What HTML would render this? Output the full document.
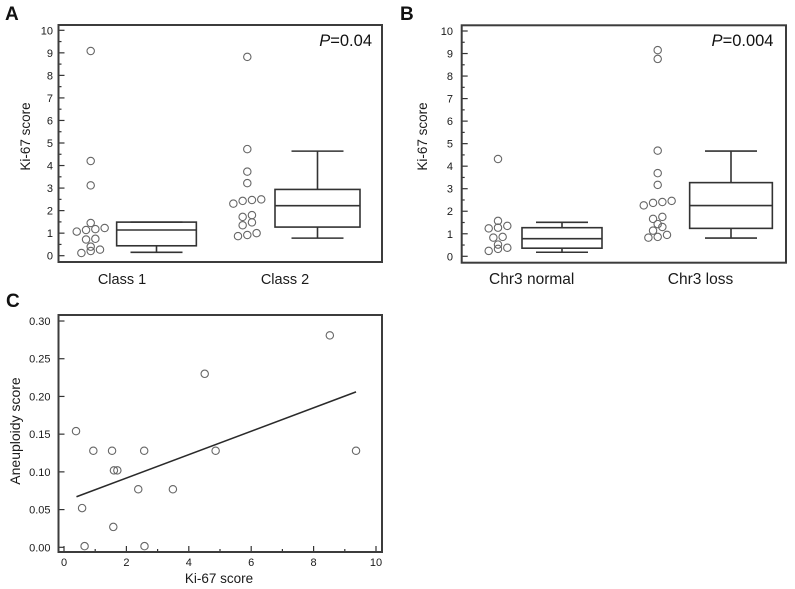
<!DOCTYPE html>
<html>
<head>
<meta charset="utf-8">
<title>Ki-67 score charts</title>
<style>
html,body{margin:0;padding:0;background:#fff;}
svg{display:block;font-family:"Liberation Sans",sans-serif;}
</style>
</head>
<body>
<svg id="figure" xmlns="http://www.w3.org/2000/svg" width="795" height="589" viewBox="0 0 795 589"></svg>
<script>
// ---- Panel A data ----
const aCategories = ['Class 1', 'Class 2'];
const aClass1Values = [9.08, 4.2, 3.12, 1.45, 1.07, 1.14, 1.18, 1.23, 0.72, 0.75, 0.40, 0.21, 0.27, 0.12];
const aClass1Slots = [0, 0, 0, 0, -3, -1, 1, 3, -1, 1, 0, 0, 2, -2];
const aClass2Values = [8.82, 4.73, 3.73, 3.22, 2.31, 2.43, 2.47, 2.5, 1.72, 1.8, 1.35, 1.48, 0.87, 0.92, 1.0];
const aClass2Slots = [0, 0, 0, 0, -3, -1, 1, 3, -1, 1, -1, 1, -2, 0, 2];
const aClass1Box = [0.15, 0.44, 1.14, 1.49, 1.49];
const aClass2Box = [0.78, 1.27, 2.22, 2.94, 4.64];
// ---- Panel B data ----
const bCategories = ['Chr3 normal', 'Chr3 loss'];
const bNormalValues = [4.32, 1.57, 1.24, 1.27, 1.35, 0.83, 0.86, 0.52, 0.33, 0.38, 0.24];
const bNormalSlots = [0, 0, -2, 0, 2, -1, 1, 0, 0, 2, -2];
const bLossValues = [9.15, 8.76, 4.69, 3.69, 3.17, 2.26, 2.37, 2.41, 2.46, 1.66, 1.75, 1.43, 1.30, 1.14, 0.83, 0.86, 0.95];
const bLossSlots = [0, 0, 0, 0, 0, -3, -1, 1, 3, -1, 1, 0, 1, -1, -2, 0, 2];
const bNormalBox = [0.18, 0.36, 0.78, 1.27, 1.51];
const bLossBox = [0.81, 1.24, 2.25, 3.27, 4.67];
// ---- Shared box-panel ticks ----
const scoreTicks = [0, 1, 2, 3, 4, 5, 6, 7, 8, 9, 10];
const scoreMinorTicks = [0.5, 1.5, 2.5, 3.5, 4.5, 5.5, 6.5, 7.5, 8.5, 9.5];
// ---- Panel C data ----
const cKi67 = [0.385, 0.94, 1.54, 2.57, 4.86, 9.36, 1.6, 1.71, 2.38, 3.49, 0.58, 1.58, 0.66, 2.58, 4.51, 8.52];
const cAneuploidy = [0.154, 0.128, 0.128, 0.128, 0.128, 0.128, 0.102, 0.102, 0.077, 0.077, 0.052, 0.027, 0.0015, 0.0015, 0.23, 0.281];
const cFitX = [0.4, 9.36];
const cFitY = [0.067, 0.206];
const cXTicks = [0, 2, 4, 6, 8, 10];
const cXMinorTicks = [1, 3, 5, 7, 9];
const cYTicks = [0, 0.05, 0.10, 0.15, 0.20, 0.25, 0.30];

const NS = 'http://www.w3.org/2000/svg';
const svg = document.getElementById('figure');
const INK = '#333333';
const CIRCLE = '#666666';

function line(parent, x1, y1, x2, y2, color, width) {
  const el = document.createElementNS(NS, 'line');
  el.setAttribute('x1', x1);
  el.setAttribute('y1', y1);
  el.setAttribute('x2', x2);
  el.setAttribute('y2', y2);
  el.setAttribute('stroke', color);
  el.setAttribute('stroke-width', width);
  parent.appendChild(el);
  return el;
}
function text(parent, str, x, y, size, anchor, color) {
  const el = document.createElementNS(NS, 'text');
  el.setAttribute('x', x);
  el.setAttribute('y', y);
  el.setAttribute('font-size', size);
  el.setAttribute('text-anchor', anchor);
  el.setAttribute('fill', color || '#1a1a1a');
  el.textContent = str;
  parent.appendChild(el);
  return el;
}
function group(parent) {
  const el = document.createElementNS(NS, 'g');
  parent.appendChild(el);
  return el;
}
function frame(parent, x, y, w, h) {
  const el = document.createElementNS(NS, 'rect');
  el.setAttribute('x', x);
  el.setAttribute('y', y);
  el.setAttribute('width', w);
  el.setAttribute('height', h);
  el.setAttribute('fill', 'none');
  el.setAttribute('stroke', '#3c3c3c');
  el.setAttribute('stroke-width', 2);
  parent.appendChild(el);
  
  
}
function circle(parent, cx, cy) {
  const el = document.createElementNS(NS, 'circle');
  el.setAttribute('cx', cx);
  el.setAttribute('cy', cy);
  el.setAttribute('r', 3.7);
  el.setAttribute('fill', 'none');
  el.setAttribute('stroke', CIRCLE);
  el.setAttribute('stroke-width', 1.1);
  parent.appendChild(el);
  
  
}
function panelLetter(str, x, y) {
  const el = text(svg, str, x, y, 19, 'start', '#111');
  el.setAttribute('font-weight', 'bold');
  
  
}
function yTitle(str, x, cy, size) {
  const el = text(svg, str, 0, 0, size, 'middle');
  el.setAttribute('transform', 'translate(' + x + ',' + cy + ') rotate(-90)');
  
  
}

function drawSwarm(parent, values, slots, cx, yScale) {
  const g = group(parent);
  
  
  values.forEach(function (v, i) {
    circle(g, cx + slots[i] * 4.65, yScale(v));
  });
}
function drawBox(parent, stats, cx, boxW, yScale) {
  const g = group(parent);
  
  
  const low = yScale(stats[0]), q1 = yScale(stats[1]), med = yScale(stats[2]), q3 = yScale(stats[3]), high = yScale(stats[4]);
  const lw = 1.6;
  line(g, cx, q1, cx, low, INK, lw);
  line(g, cx, q3, cx, high, INK, lw);
  line(g, cx - 26, low, cx + 26, low, INK, lw);
  line(g, cx - 26, high, cx + 26, high, INK, lw);
  const r = document.createElementNS(NS, 'rect');
  r.setAttribute('x', cx - boxW / 2);
  r.setAttribute('y', q3);
  r.setAttribute('width', boxW);
  r.setAttribute('height', q1 - q3);
  r.setAttribute('fill', 'none');
  r.setAttribute('stroke', INK);
  r.setAttribute('stroke-width', lw);
  g.appendChild(r);
  line(g, cx - boxW / 2, med, cx + boxW / 2, med, INK, lw);
}

function drawBoxPanel(cfg) {
  const g = group(svg);
  
  
  const yScale = function (v) { return cfg.y0 - v * cfg.yUnit; };
  scoreTicks.forEach(function (t) {
    line(g, cfg.left, yScale(t), cfg.left + 6, yScale(t), INK, 1.2);
    const lab = text(g, String(t), cfg.labelRight, yScale(t) + 4, 11, 'end');
    
    
  });
  scoreMinorTicks.forEach(function (t) {
    line(g, cfg.left, yScale(t), cfg.left + 3, yScale(t), INK, 1.2);
  });
  frame(g, cfg.left, cfg.top, cfg.right - cfg.left, cfg.bottom - cfg.top);
  drawSwarm(g, cfg.values[0], cfg.slots[0], cfg.swarmX[0], yScale);
  drawSwarm(g, cfg.values[1], cfg.slots[1], cfg.swarmX[1], yScale);
  drawBox(g, cfg.boxes[0], cfg.boxX[0], cfg.boxW[0], yScale);
  drawBox(g, cfg.boxes[1], cfg.boxX[1], cfg.boxW[1], yScale);
  cfg.categories.forEach(function (c, i) {
    const lab = text(g, c, cfg.catX[i], 284, cfg.catSize, 'middle');
    
    
  });
  const p = text(g, '', cfg.pRight, 46, 16.5, 'end', '#111');
  const ps = document.createElementNS(NS, 'tspan');
  ps.setAttribute('font-style', 'italic');
  ps.textContent = 'P';
  p.appendChild(ps);
  p.appendChild(document.createTextNode(cfg.pText));
  
  
}

drawBoxPanel({
  name: 'panel-a-chart', left: 58.5, right: 382, top: 25, bottom: 262,
  y0: 255.7, yUnit: 22.54, labelRight: 53, catSize: 14.5,
  values: [aClass1Values, aClass2Values], slots: [aClass1Slots, aClass2Slots],
  swarmX: [90.7, 247.3], boxes: [aClass1Box, aClass2Box],
  boxX: [156.5, 317.5], boxW: [79.7, 85],
  categories: aCategories, catX: [122, 285], pRight: 372, pText: '=0.04'
});
panelLetter('A', 5, 20);
yTitle('Ki-67 score', 30, 136.5, 13.5);

drawBoxPanel({
  name: 'panel-b-chart', left: 461.7, right: 786, top: 25.3, bottom: 262.7,
  y0: 256.3, yUnit: 22.53, labelRight: 453, catSize: 15.5,
  values: [bNormalValues, bLossValues], slots: [bNormalSlots, bLossSlots],
  swarmX: [498, 657.7], boxes: [bNormalBox, bLossBox],
  boxX: [562, 731], boxW: [80, 82.7],
  categories: bCategories, catX: [531.7, 700.5], pRight: 773.5, pText: '=0.004'
});
panelLetter('B', 400, 20);
yTitle('Ki-67 score', 427, 136.5, 13.5);

(function drawScatter() {
  const left = 58.5, right = 382, top = 315, bottom = 552;
  const xScale = function (v) { return 64 + v * 31.2; };
  const yScale = function (v) { return 547.3 - v * 754.3; };
  const g = group(svg);
  
  
  cYTicks.forEach(function (t) {
    line(g, left, yScale(t), left + 6, yScale(t), INK, 1.2);
    const lab = text(g, t.toFixed(2), 50.5, yScale(t) + 4, 11, 'end');
    
    
  });
  cXTicks.forEach(function (t) {
    line(g, xScale(t), bottom, xScale(t), bottom - 6, INK, 1.2);
    const lab = text(g, String(t), xScale(t), 566, 11, 'middle');
    
    
  });
  cXMinorTicks.forEach(function (t) {
    line(g, xScale(t), bottom, xScale(t), bottom - 3, INK, 1.2);
  });
  frame(g, left, top, right - left, bottom - top);
  const pts = group(g);
  
  
  cKi67.forEach(function (v, i) {
    circle(pts, xScale(v), yScale(cAneuploidy[i]));
  });
  const fit = line(g, xScale(cFitX[0]), yScale(cFitY[0]), xScale(cFitX[1]), yScale(cFitY[1]), '#2a2a2a', 1.6);
  
  
  const xt = text(g, 'Ki-67 score', 219, 583, 13.5, 'middle');
  
  
})();
panelLetter('C', 6, 307);
yTitle('Aneuploidy score', 20, 431, 14);
</script>
</body>
</html>
